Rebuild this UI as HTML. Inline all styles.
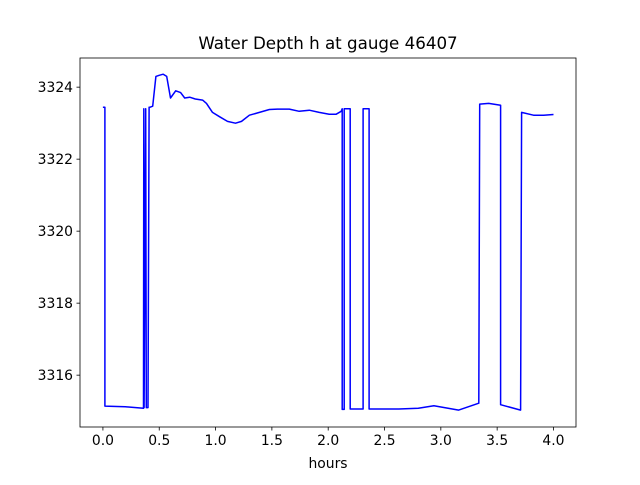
<!DOCTYPE html>
<html><head><meta charset="utf-8"><style>
body{margin:0;background:#fff;}
text{font-family:"DejaVu Sans","Liberation Sans",sans-serif;fill:#000;}
</style></head><body>
<svg id="chart" width="640" height="480" viewBox="0 0 640 480" xmlns="http://www.w3.org/2000/svg">
<rect width="640" height="480" fill="#fff"/>
<g id="plot"></g>
</svg>
<script>
const hours=[0,0.018,0.018,0.2,0.36,0.363,0.366,0.38,0.385,0.4,0.41,0.416,0.442,0.47,0.5,0.535,0.566,0.6,0.646,0.69,0.726,0.77,0.82,0.885,0.92,0.973,1.035,1.106,1.177,1.23,1.3,1.389,1.478,1.549,1.655,1.743,1.832,1.92,2.009,2.071,2.115,2.124,2.124,2.142,2.142,2.168,2.195,2.195,2.31,2.31,2.354,2.363,2.363,2.628,2.8,2.938,3.159,3.337,3.345,3.425,3.531,3.531,3.708,3.717,3.823,3.912,4.0];
const depth=[3323.44,3323.44,3315.14,3315.12,3315.08,3323.4,3315.1,3323.4,3315.1,3315.1,3323.44,3323.44,3323.47,3324.3,3324.33,3324.36,3324.3,3323.7,3323.9,3323.85,3323.7,3323.72,3323.67,3323.64,3323.55,3323.3,3323.18,3323.05,3323.0,3323.05,3323.22,3323.3,3323.38,3323.39,3323.39,3323.33,3323.36,3323.3,3323.25,3323.25,3323.33,3323.4,3315.05,3315.05,3323.4,3323.4,3323.4,3315.06,3315.06,3323.4,3323.4,3323.4,3315.06,3315.06,3315.08,3315.15,3315.03,3315.22,3323.53,3323.55,3323.5,3315.18,3315.03,3323.3,3323.22,3323.22,3323.24];
const xTicks=[0,0.5,1,1.5,2,2.5,3,3.5,4];
const xTickLabels=["0.0","0.5","1.0","1.5","2.0","2.5","3.0","3.5","4.0"];
const yTicks=[3316,3318,3320,3322,3324];
const yTickLabels=["3316","3318","3320","3322","3324"];
const L=80,R=576,T=58,B=427;
const xMin=-0.2035,xMax=4.2;
const yMin=3314.56,yMax=3324.81;
const sx=v=>L+(v-xMin)/(xMax-xMin)*(R-L);
const sy=v=>B-(v-yMin)/(yMax-yMin)*(B-T);
const NS="http://www.w3.org/2000/svg";
const g=document.getElementById('plot');
function mk(tag,attrs){const e=document.createElementNS(NS,tag);for(const k in attrs)e.setAttribute(k,attrs[k]);g.appendChild(e);return e;}
// series
let d="";
hours.forEach((h,i)=>{d+=(i?"L":"M")+sx(h).toFixed(1)+","+sy(depth[i]).toFixed(1);});
const line=mk('path',{d:d,fill:'none',stroke:'#0000ff','stroke-width':1.5,'stroke-linejoin':'round'});


// frame
const frame=mk('rect',{x:L,y:T,width:R-L,height:B-T,fill:'none',stroke:'#000','stroke-width':0.8});


xTicks.forEach((v,i)=>{
  const x=sx(v);
  const t=mk('line',{x1:x,x2:x,y1:B,y2:B+3.5,stroke:'#000','stroke-width':0.8});
  
  
  const l=mk('text',{x:x,y:B+18,'text-anchor':'middle','font-size':'13.9'});
  l.textContent=xTickLabels[i];
  
  
});
yTicks.forEach((v,i)=>{
  const y=sy(v);
  const t=mk('line',{x1:L-3.5,x2:L,y1:y,y2:y,stroke:'#000','stroke-width':0.8});
  
  
  const l=mk('text',{x:L-7,y:y+5,'text-anchor':'end','font-size':'13.9'});
  l.textContent=yTickLabels[i];
  
  
});
const title=mk('text',{x:(L+R)/2,y:49,'text-anchor':'middle','font-size':'16.7'});
title.textContent="Water Depth h at gauge 46407";


const xl=mk('text',{x:(L+R)/2,y:468,'text-anchor':'middle','font-size':'13.9'});
xl.textContent="hours";


</script>
</body></html>
